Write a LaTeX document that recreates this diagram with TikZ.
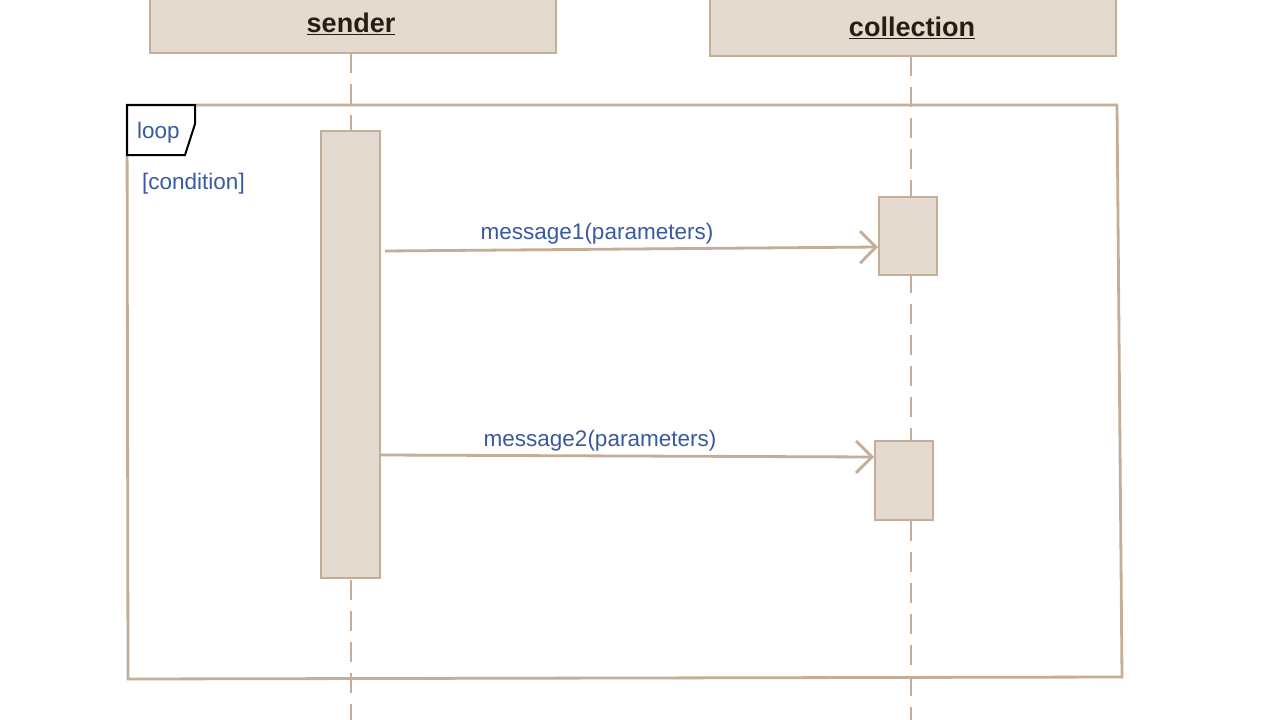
\documentclass[tikz,border=0pt]{standalone}
\usepackage{fontspec}
\setmainfont{Liberation Sans}
\usetikzlibrary{arrows.meta}
\definecolor{umlline}{HTML}{C4AE98}
\definecolor{umlfill}{HTML}{E4DAD0}
\definecolor{umltext}{HTML}{3A5A9E}
\definecolor{headtext}{HTML}{2A1C10}
\tikzset{
  head/.style={draw=umlline, fill=umlfill, line width=2.8pt, inner sep=0pt, minimum width=406pt},
  headlabel/.style={font=\fontsize{27}{31}\selectfont\bfseries, text=headtext, inner sep=0pt},
  lifeline/.style={draw=umlline, line width=2.4pt, dash pattern=on 20pt off 11pt},
  actbox/.style={draw=umlline, fill=umlfill, line width=2.8pt, inner sep=0pt, minimum width=58pt},
  msg/.style={draw=umlline, line width=2.8pt, -{Straight Barb[length=16pt,width=32pt]}},
  msglabel/.style={font=\fontsize{22.5}{26}\selectfont, text=umltext, inner sep=0pt},
  frame/.style={draw=umlline, line width=2.8pt},
  tab/.style={draw=black, fill=white, line width=2pt, line join=miter}
}
\begin{document}
\begin{tikzpicture}[x=1pt,y=-1pt]
\useasboundingbox (0,0) rectangle (1280,720);
\fill[white] (0,0) rectangle (1280,720);

% lifelines
\coordinate (sl1) at (351,53);
\coordinate (sl2) at (351,720);
\coordinate (cl1) at (911,56);
\coordinate (cl2) at (911,720);
\draw[lifeline] (sl1) -- (sl2);
\draw[lifeline] (cl1) -- (cl2);

% headers
\node[head, minimum height=58pt] (sender) at (353,24) {};
\node[head, minimum height=61pt] (collection) at (913,25.5) {};
\node[headlabel] (senderlbl) at (351,24) {\underline{sender}};
\node[headlabel] (collectionlbl) at (912,28) {\underline{collection}};

% loop frame
\coordinate (f1) at (127,105);
\coordinate (f2) at (1117,105);
\coordinate (f3) at (1122,677);
\coordinate (f4) at (128,679);
\draw[frame] (f1) -- (f2) -- (f3) -- (f4) -- cycle;
\coordinate (t2) at (195,105);
\coordinate (t3) at (195,124);
\coordinate (t4) at (185,155);
\coordinate (t5) at (127,155);
\draw[tab] (f1) -- (t2) -- (t3) -- (t4) -- (t5) -- cycle;
\node[msglabel, anchor=west] (looplbl) at (137,133) {loop};
\node[msglabel, anchor=west] (cond) at (142,184) {[condition]};

% activations
\node[actbox, minimum width=59pt, minimum height=447pt] (sa) at (350.5,354.5) {};
\node[actbox, minimum height=78pt] (c1) at (908,236) {};
\node[actbox, minimum height=79pt] (c2) at (904,480.5) {};

% messages
\coordinate (m1s) at (385,251);
\coordinate (m1e) at (878,247);
\coordinate (m2s) at (381,455);
\coordinate (m2e) at (874,457);
\draw[msg] (m1s) -- (m1e);
\draw[msg] (m2s) -- (m2e);
\node[msglabel] (m1lbl) at (597,234) {message1(parameters)};
\node[msglabel] (m2lbl) at (600,441) {message2(parameters)};
\end{tikzpicture}
\end{document}
